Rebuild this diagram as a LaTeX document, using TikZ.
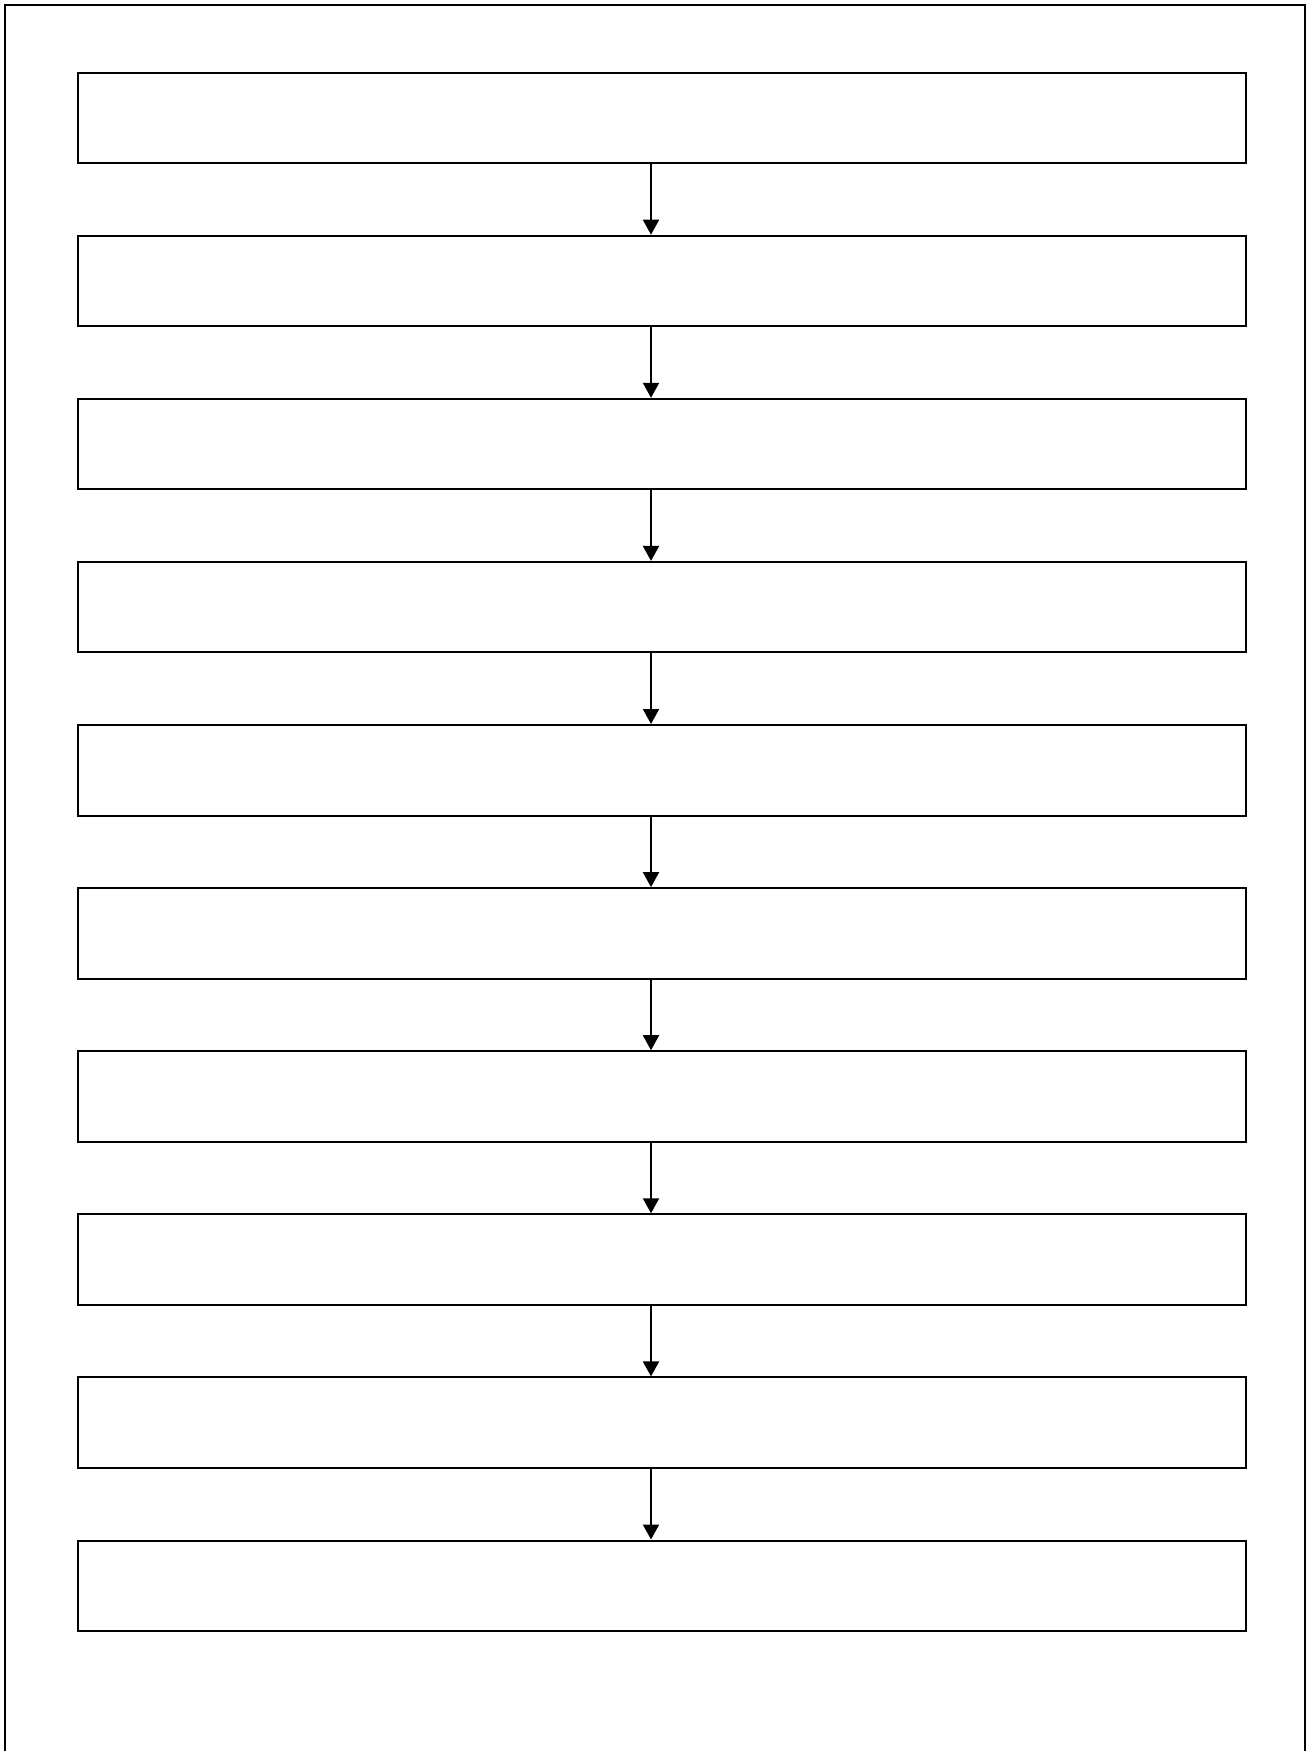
\documentclass[tikz,border=0pt]{standalone}
\usetikzlibrary{arrows.meta}
\begin{document}
\begin{tikzpicture}[x=0.5pt,y=-0.5pt,
  stepbox/.style={draw=black,line width=1pt,minimum width=1168*0.5pt,minimum height=90.5*0.5pt,inner sep=0pt},
  flow/.style={draw=black,line width=1pt,-{Triangle[width=8pt,length=7.5pt]}}]
\useasboundingbox (0,0) rectangle (1308,1751);
\draw[line width=1pt] (5,1751) -- (5,5) -- (1305,5) -- (1305,1751);
\foreach \i in {0,...,9} {
  \node[stepbox] (b\i) at (662,{72.6+163.1*\i+45.25}) {};
}
\foreach \i [evaluate=\i as \j using int(\i+1)] in {0,...,8} {
  \draw[flow] (b\i.south -| 651,0) -- (b\j.north -| 651,0);
}
\end{tikzpicture}
\end{document}
